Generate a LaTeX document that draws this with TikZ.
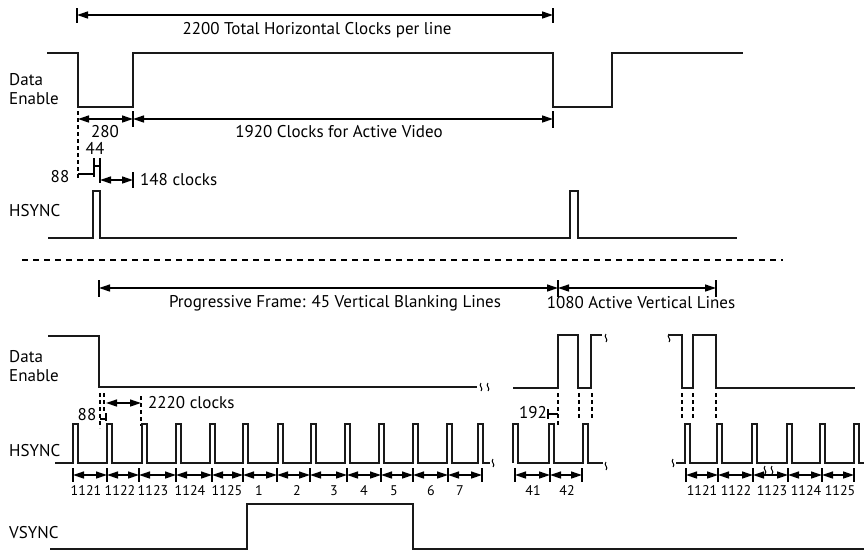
\documentclass[tikz,border=0pt]{standalone}
\usepackage{fontspec}
\setmainfont{PT Sans}
\usetikzlibrary{arrows.meta}
\begin{document}
\begin{tikzpicture}[x=1pt,y=-1pt,
  wave/.style={line width=2pt, line join=miter, black!90},
  dimarrow/.style={line width=1.3pt, {Triangle[length=11pt,width=7pt]}-{Triangle[length=11pt,width=7pt]}},
  dimtick/.style={line width=1.3pt},
  guide/.style={line width=1.3pt, dash pattern=on 4pt off 3pt},
  sep/.style={line width=1.5pt, dash pattern=on 6pt off 5pt},
  lbl/.style={font=\fontsize{17}{19}\selectfont, inner sep=0pt},
  numlbl/.style={font=\fontsize{14}{16}\selectfont, inner sep=0pt},
  brk/.style={line width=1pt},
]
\useasboundingbox (0,0) rectangle (864,552);
\newcommand{\squig}[2]{\draw[brk] (#1,#2-4) .. controls (#1-3,#2-1) and (#1+3,#2+1) .. (#1,#2+4);}

%% ---------- top: one line ----------
\draw[dimtick] (77,8) -- (77,23) (553,8) -- (553,23);
\draw[dimarrow] (77,15) -- (553,15);
\node[lbl] (t2200) at (317,30) {2200 Total Horizontal Clocks per line};

\node[lbl, anchor=west] (de1a) at (9,80) {Data};
\node[lbl, anchor=west] (de1b) at (9,99) {Enable};
\draw[wave] (47,53) -- (78,53) -- (78,107) -- (133,107) -- (133,53) -- (553,53) -- (553,107) -- (612,107) -- (612,53) -- (743,53);

\draw[guide] (78,111) -- (78,180);
\draw[dimtick] (133,111) -- (133,127) (553,111) -- (553,128);
\draw[dimarrow] (78,119) -- (133,119);
\draw[dimarrow] (133,119) -- (553,119);
\node[lbl] (t280) at (105,132) {280};
\node[lbl] (t1920) at (339,132) {1920 Clocks for Active Video};

\node[lbl] (t44) at (95,148) {44};
\draw[dimtick] (94,158) -- (94,177) (100,158) -- (100,183) (94,166) -- (100,166);
\draw[dimtick] (78,174) -- (94,174);
\node[lbl] (t88a) at (60,177) {88};
\draw[dimtick] (133,172) -- (133,188);
\draw[dimarrow] (100,180) -- (133,180);
\node[lbl, anchor=west] (t148) at (140,180) {148 clocks};

\node[lbl, anchor=west] (hs1) at (9,211) {HSYNC};
\draw[wave] (48,238) -- (93,238) -- (93,191) -- (100,191) -- (100,238) -- (570,238) -- (570,191) -- (578,191) -- (578,238) -- (737,238);

%% ---------- separator ----------
\draw[sep] (22,260) -- (783,260);

%% ---------- bottom: frame ----------
\draw[dimtick] (99,280) -- (99,297) (558,280) -- (558,297) (716,280) -- (716,297);
\draw[dimarrow] (99,288) -- (558,288);
\draw[dimarrow] (558,288) -- (716,288);
\node[lbl] (tprog) at (335,303) {Progressive Frame: 45 Vertical Blanking Lines};
\node[lbl] (t1080) at (641,303) {1080 Active Vertical Lines};

\node[lbl, anchor=west] (de2a) at (9,357) {Data};
\node[lbl, anchor=west] (de2b) at (9,376) {Enable};
\draw[wave] (48,336) -- (99,336) -- (99,387) -- (477,387);
\squig{481}{387} \squig{488}{387}
\draw[wave] (513,388) -- (558,388) -- (558,335) -- (578,335) -- (578,388) -- (591,388) -- (591,335) -- (602,335);
\squig{606}{338}
\squig{669}{338}
\draw[wave] (668,335) -- (682,335) -- (682,388) -- (693,388) -- (693,335) -- (716,335) -- (716,388) -- (855,388);

\draw[guide] (558,393) -- (558,427) (579,393) -- (579,418) (592,393) -- (592,418);
\draw[guide] (682,393) -- (682,420) (693,393) -- (693,420) (716,393) -- (716,418);

\node[lbl] (t192) at (533,413) {192};
\draw[dimtick] (548,409) -- (548,419) (548,414) -- (558,414);

\draw[guide] (100,393) -- (100,428) (104,393) -- (104,411) (141,396) -- (141,426);
\node[lbl] (t88b) at (87,415) {88};
\draw[dimtick] (100,419) -- (106,419) (106,413) -- (106,421);
\draw[dimarrow] (106,403) -- (141,403);
\node[lbl, anchor=west] (t2220) at (148,403) {2220 clocks};

\node[lbl, anchor=west] (hs2) at (9,451) {HSYNC};
\draw[wave] (55,463) \foreach \x in {73,107,142,176,210,243,278,311,345,379,413,447,478} { -- (\x,463) -- (\x,424) -- (\x+5,424) -- (\x+5,463) } -- (490,463);
\squig{493}{463}
\draw[wave] (513,463) \foreach \x in {513,549,583} { -- (\x,463) -- (\x,424) -- (\x+5,424) -- (\x+5,463) } -- (603,463);
\squig{606}{466}
\squig{673}{463}
\draw[wave] (676,463) \foreach \x in {685,717,752,787,820,854} { -- (\x,463) -- (\x,424) -- (\x+5,424) -- (\x+5,463) } -- (864,463);

%% line numbers
\foreach \a/\b in {73/107,107/139,139/176,176/212,212/243,243/277,277/310,310/347,347/381,381/413,413/448,448/482,515/550,550/582,686/718,718/753,753/788,788/822,822/854} {
  \draw[dimtick] (\a,468) -- (\a,482) (\b,468) -- (\b,482);
  \draw[dimarrow] (\a,475) -- (\b,475);
}
\squig{765}{470} \squig{772}{470}
\foreach \t/\x [count=\i] in {1121/86,1122/120,1123/153,1124/190,1125/227,1/259,2/297,3/334,4/364,5/394,6/431,7/460,41/533,42/567,1121/702,1122/736,1123/772,1124/806,1125/840} {
  \node[numlbl] (n\i) at (\x,491) {\t};
}

\node[lbl, anchor=west] (vs) at (9,533) {VSYNC};
\draw[wave] (50,549) -- (247,549) -- (247,504) -- (413,504) -- (413,549) -- (864,549);
\end{tikzpicture}
\end{document}
